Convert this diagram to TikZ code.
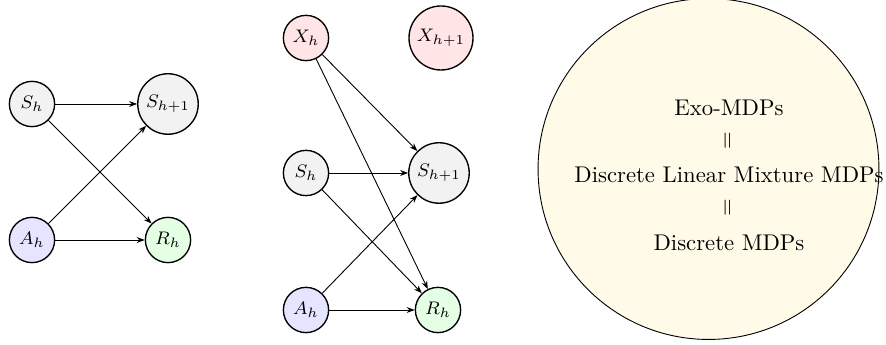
\documentclass[tikz,border=0pt]{standalone}
\usepackage{graphicx}
\usetikzlibrary{arrows.meta}
\definecolor{cream}{RGB}{255,251,232}
\begin{document}
\begin{tikzpicture}[x=0.44pt,y=-0.44pt,
  var/.style={circle,draw,semithick,inner sep=2.2pt,minimum size=0.7cm,font=\footnotesize},
  svar/.style={var,fill=gray!10},
  avar/.style={var,fill=blue!10},
  rvar/.style={var,fill=green!10},
  xvar/.style={var,fill=red!10},
  edge/.style={-{Stealth[length=3.5pt,width=2.6pt]},thin},
  classtext/.style={inner sep=0pt}]
\useasboundingbox (0,0) rectangle (886,345);
% left graph
\node[svar] (s1) at (32,104) {$S_h$};
\node[svar] (s1n) at (168,104) {$S_{h+1}$};
\node[avar] (a1) at (32,240) {$A_h$};
\node[rvar] (r1) at (168,240) {$R_h$};
\draw[edge] (s1) -- (s1n);
\draw[edge] (s1) -- (r1);
\draw[edge] (a1) -- (s1n);
\draw[edge] (a1) -- (r1);
% middle graph
\node[xvar] (x2) at (306,38) {$X_h$};
\node[xvar] (x2n) at (441,38) {$X_{h+1}$};
\node[svar] (s2) at (306,173) {$S_h$};
\node[svar] (s2n) at (439,173) {$S_{h+1}$};
\node[avar] (a2) at (306,310) {$A_h$};
\node[rvar] (r2) at (438,310) {$R_h$};
\draw[edge] (x2) -- (s2n);
\draw[edge] (x2) -- (r2);
\draw[edge] (s2) -- (s2n);
\draw[edge] (s2) -- (r2);
\draw[edge] (a2) -- (s2n);
\draw[edge] (a2) -- (r2);
% class circle
\draw[thin,fill=cream] (708.5,169) circle [radius=75pt];
\node[classtext,anchor=base] (t1) at (729,116) {Exo-MDPs};
\node[classtext] (e1) at (729,141) {\rotatebox{90}{$=$}};
\node[classtext,anchor=base] (t2) at (729,183) {Discrete Linear Mixture MDPs};
\node[classtext] (e2) at (729,207.5) {\rotatebox{90}{$=$}};
\node[classtext,anchor=base] (t3) at (729,251) {Discrete MDPs};
\end{tikzpicture}
\end{document}
